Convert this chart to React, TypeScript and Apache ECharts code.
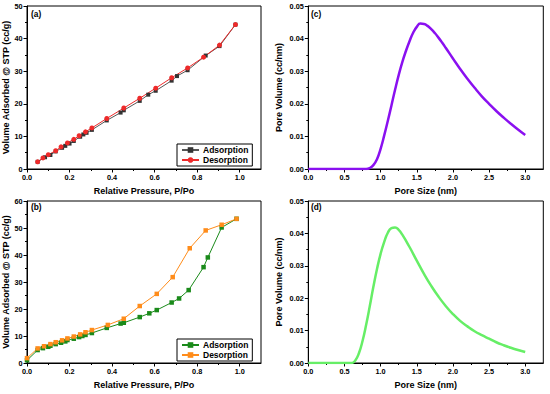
import React, { useEffect, useRef } from "react";
import * as echarts from "echarts";

// ---- Data ----
const adsA_x = [0.05, 0.085, 0.11, 0.135, 0.165, 0.18, 0.2, 0.22, 0.25, 0.265, 0.28, 0.305, 0.375, 0.44, 0.455, 0.53, 0.57, 0.605, 0.68, 0.705, 0.755, 0.84, 0.905, 0.98];
const adsA_y = [2.2, 3.6, 4.3, 5.4, 6.5, 7.1, 7.8, 8.6, 9.9, 10.6, 11.1, 12.0, 14.9, 17.3, 18.0, 20.9, 22.8, 24.0, 27.1, 28.5, 30.3, 34.8, 37.7, 44.3];
const desA_x = [0.98, 0.905, 0.83, 0.755, 0.68, 0.605, 0.53, 0.455, 0.375, 0.305, 0.275, 0.245, 0.22, 0.19, 0.16, 0.135, 0.1, 0.075, 0.05];
const desA_y = [44.3, 38.0, 34.3, 31.0, 28.0, 24.8, 21.7, 18.7, 15.5, 12.6, 11.4, 10.2, 9.1, 8.0, 6.8, 5.6, 4.4, 3.4, 2.2];

const adsB_x = [0, 0.05, 0.075, 0.1, 0.11, 0.135, 0.16, 0.18, 0.19, 0.22, 0.245, 0.26, 0.275, 0.305, 0.375, 0.44, 0.455, 0.53, 0.575, 0.61, 0.68, 0.715, 0.76, 0.83, 0.85, 0.915, 0.985];
const adsB_y = [1.0, 4.8, 5.5, 6.0, 6.4, 7.0, 7.5, 8.0, 8.5, 9.0, 9.6, 10.0, 10.4, 11.1, 13.0, 14.6, 14.9, 17.0, 18.4, 19.6, 22.4, 23.9, 27.0, 35.5, 39.1, 50.2, 53.4];
const desB_x = [0.985, 0.915, 0.84, 0.765, 0.685, 0.61, 0.53, 0.455, 0.38, 0.305, 0.275, 0.25, 0.22, 0.19, 0.165, 0.135, 0.11, 0.08, 0.05, 0];
const desB_y = [53.4, 51.2, 49.1, 42.5, 31.8, 25.6, 21.1, 16.4, 14.1, 12.2, 11.4, 10.6, 9.8, 9.1, 8.4, 7.7, 7.0, 6.2, 5.4, 1.8];

const poreC_x = [0, 0.1, 0.2, 0.3, 0.4, 0.5, 0.6, 0.7, 0.8, 0.85, 0.9, 0.95, 1.0, 1.05, 1.1, 1.15, 1.2, 1.25, 1.3, 1.35, 1.4, 1.45, 1.5, 1.55, 1.6, 1.65, 1.7, 1.75, 1.8, 1.85, 1.9, 2.0, 2.1, 2.2, 2.3, 2.4, 2.5, 2.6, 2.7, 2.8, 2.9, 3.0];
const poreC_y = [0, 0, 0, 0, 0, 0, 0, 0, 0, 0.0003, 0.0012, 0.003, 0.0062, 0.0103, 0.0148, 0.0195, 0.0243, 0.0288, 0.0328, 0.0362, 0.0392, 0.0418, 0.0436, 0.0446, 0.0445, 0.0439, 0.0429, 0.0417, 0.0403, 0.0388, 0.0372, 0.0339, 0.0307, 0.0277, 0.0249, 0.0223, 0.02, 0.0178, 0.0158, 0.0139, 0.0121, 0.0104];

const poreD_x = [0, 0.1, 0.2, 0.3, 0.4, 0.5, 0.6, 0.65, 0.7, 0.75, 0.8, 0.85, 0.9, 0.95, 1.0, 1.05, 1.1, 1.15, 1.2, 1.25, 1.3, 1.4, 1.5, 1.6, 1.7, 1.8, 1.9, 2.0, 2.1, 2.2, 2.3, 2.4, 2.5, 2.6, 2.7, 2.8, 2.9, 3.0];
const poreD_y = [0, 0, 0, 0, 0, 0, 0, 0.0008, 0.003, 0.0068, 0.0118, 0.0175, 0.0235, 0.029, 0.0337, 0.0374, 0.0402, 0.0416, 0.0418, 0.0411, 0.0396, 0.0358, 0.0316, 0.0275, 0.0238, 0.0205, 0.0176, 0.0151, 0.013, 0.0113, 0.0098, 0.0086, 0.0075, 0.0064, 0.0055, 0.0047, 0.004, 0.0034];

const isoTicksX = [0, 0.2, 0.4, 0.6, 0.8, 1.0];
const poreTicksX = [0, 0.5, 1.0, 1.5, 2.0, 2.5, 3.0];

const panelLabels = ["(a)", "(b)", "(c)", "(d)"];
const isoXTitle = "Relative Pressure, P/Po";
const isoYTitle = "Volume Adsorbed @ STP (cc/g)";
const poreXTitle = "Pore Size (nm)";
const poreYTitle = "Pore Volume (cc/nm)";

const FONT = "'Liberation Sans', Arial, sans-serif";

const zip = (xs: number[], ys: number[]) => xs.map((x, i) => [x, ys[i]]);

export default function App() {
  const ref = useRef<HTMLDivElement>(null);
  useEffect(() => {
    if (!ref.current) return;
    const chart = echarts.init(ref.current, undefined, { renderer: "svg" });

    const grids = [
      { left: 27, top: 6, width: 234, height: 163 },
      { left: 27, top: 201, width: 234, height: 162 },
      { left: 308.3, top: 6, width: 235, height: 163 },
      { left: 308.3, top: 201, width: 235, height: 162 },
    ].map((g) => ({ ...g, show: true, borderColor: "#000", borderWidth: 1, backgroundColor: "transparent" }));

    const baseAxis = {
      type: "value" as const,
      splitLine: { show: false },
      axisLine: { show: true, onZero: false, lineStyle: { color: "#000", width: 1 } },
      axisTick: { show: true, inside: false, length: 3.5, lineStyle: { color: "#000" } },
      minorTick: { show: true, splitNumber: 2, length: 2, lineStyle: { color: "#000" } },
      nameLocation: "middle" as const,
      nameTextStyle: { fontSize: 9, fontWeight: "bold", color: "#000", fontFamily: FONT },
    };
    const label = (fmt: (v: number) => string, margin: number) => ({
      fontSize: 7.3,
      fontWeight: "bold",
      color: "#000",
      fontFamily: FONT,
      margin,
      formatter: fmt,
    });

    const xAxes = [0, 1, 2, 3].map((i) => {
      const iso = i < 2;
      const ticks = iso ? isoTicksX : poreTicksX;
      return {
        ...baseAxis,
        gridIndex: i,
        min: 0,
        max: iso ? 1.1 : 3.25,
        interval: iso ? 0.2 : 0.5,
        name: iso ? isoXTitle : poreXTitle,
        nameGap: 17,
        axisTick: { ...baseAxis.axisTick, customValues: ticks },
        axisLabel: { ...label((v: number) => v.toFixed(1), 4.5), customValues: ticks },
      };
    });

    const yAxes = [0, 1, 2, 3].map((i) => {
      const iso = i < 2;
      return {
        ...baseAxis,
        gridIndex: i,
        min: 0,
        max: iso ? (i === 0 ? 50 : 60) : 0.05,
        interval: iso ? 10 : 0.01,
        name: iso ? isoYTitle : poreYTitle,
        nameGap: iso ? 15 : 25,
        axisLabel: label((v: number) => (iso ? String(Math.round(v)) : v.toFixed(2)), 4.5),
      };
    });

    const iso = (name: string, i: number, xs: number[], ys: number[], color: string, lineColor: string, symbol: string, size: number) => ({
      type: "line",
      name,
      xAxisIndex: i,
      yAxisIndex: i,
      data: zip(xs, ys),
      symbol,
      symbolSize: size,
      showAllSymbol: true,
      itemStyle: { color },
      lineStyle: { color: lineColor, width: 1 },
    });

    const legendBase = {
      orient: "vertical" as const,
      backgroundColor: "#fff",
      borderColor: "#000",
      borderWidth: 1,
      borderRadius: 0,
      padding: [1.5, 4, 1.5, 4],
      itemGap: 1,
      itemWidth: 17,
      itemHeight: 7,
      textStyle: { fontSize: 8.5, fontWeight: "bold", color: "#000", fontFamily: FONT, padding: [0, 0, 0, -1] },
      formatter: (n: string) => n.split("_")[0],
      selectedMode: false,
    };

    const option = {
      animation: false,
      backgroundColor: "#fff",
      grid: grids,
      xAxis: xAxes,
      yAxis: yAxes,
      legend: [
        { ...legendBase, left: 177, top: 144, data: ["Adsorption_a", "Desorption_a"] },
        { ...legendBase, left: 177, top: 339, data: ["Adsorption_b", "Desorption_b"] },
      ],
      series: [
        iso("Adsorption_a", 0, adsA_x, adsA_y, "#333333", "#555555", "rect", 4),
        iso("Desorption_a", 0, desA_x, desA_y, "#ee2a2a", "#ee2a2a", "circle", 5),
        iso("Adsorption_b", 1, adsB_x, adsB_y, "#1a8a1a", "#1a8a1a", "rect", 4.5),
        iso("Desorption_b", 1, desB_x, desB_y, "#ff8c1a", "#ff8c1a", "rect", 4.5),
        {
          type: "line",
          name: "c",
          xAxisIndex: 2,
          yAxisIndex: 2,
          data: zip(poreC_x, poreC_y),
          smooth: true,
          symbol: "none",
          lineStyle: { color: "#8a10f0", width: 2.5 },
        },
        {
          type: "line",
          name: "d",
          xAxisIndex: 3,
          yAxisIndex: 3,
          data: zip(poreD_x, poreD_y),
          smooth: true,
          symbol: "none",
          lineStyle: { color: "#66ee66", width: 2.5 },
        },
      ],
      graphic: [
        [31, 14],
        [31, 206.5],
        [311, 14],
        [311, 206.5],
      ].map(([x, y], k) => ({
        type: "text",
        x,
        y,
        style: {
          text: panelLabels[k],
          fill: "#000",
          fontSize: 8.3,
          fontWeight: "bold",
          fontFamily: FONT,
          verticalAlign: "middle",
        },
      })),
    };
    chart.setOption(option as any);
    return () => chart.dispose();
  }, []);
  return <div ref={ref} style={{ position: "fixed", left: 0, top: 0, width: 550, height: 394 }} />;
}
